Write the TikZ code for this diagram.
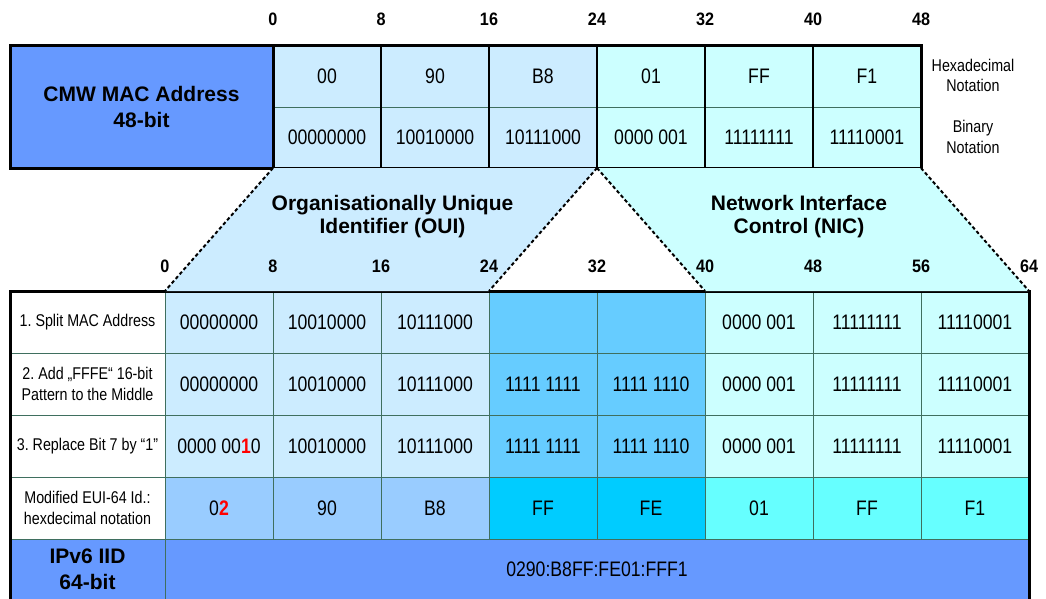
\documentclass[tikz,border=0pt]{standalone}
\usepackage{fontspec}
\setmainfont{Liberation Sans}
\newfontfamily\narrowfam{Liberation Sans}[FakeStretch=0.84]
\newfontfamily\numfam{Liberation Sans}[FakeStretch=0.9]
\frenchspacing

% fonts
\newcommand\cellfnt{\narrowfam\fontsize{21}{24}\selectfont}
\newcommand\labfnt{\narrowfam\fontsize{17}{20.5}\selectfont}
\newcommand\numfnt{\numfam\bfseries\fontsize{18}{20}\selectfont}
\newcommand\titlefnt{\bfseries\fontsize{21}{23}\selectfont}
\newcommand\boxfnt{\bfseries\fontsize{21}{26}\selectfont}
\newcommand\redbit[1]{\textcolor{red}{\bfseries #1}}

% palette
\definecolor{macblue}{HTML}{6699FF}
\definecolor{ouiblue}{HTML}{CCECFF}
\definecolor{niccyan}{HTML}{CCFFFF}
\definecolor{padblue}{HTML}{66CCFF}
\definecolor{euioui}{HTML}{99CCFF}
\definecolor{euipad}{HTML}{00CCFF}
\definecolor{euinic}{HTML}{66FFFF}
\definecolor{gridgreen}{HTML}{3F6F5F}

\tikzset{
  box/.style={rectangle, inner sep=0pt, outer sep=0pt, anchor=north west},
  topcell/.style={box, minimum width=108pt, font=\cellfnt},
  hexcell/.style={topcell, minimum height=62pt},
  bincell/.style={topcell, minimum height=61pt},
  cell/.style={box, minimum width=108pt, minimum height=62pt, font=\cellfnt,
    draw=gridgreen, line width=1pt},
  labcell/.style={box, minimum width=155pt, minimum height=62pt, font=\labfnt,
    align=center, fill=white, draw=gridgreen, line width=1pt},
  bitnum/.style={font=\numfnt, inner sep=0pt},
  title/.style={font=\titlefnt, align=center, inner sep=0pt},
  note/.style={font=\labfnt, align=center, inner sep=0pt},
  frame/.style={line width=3pt, black},
  divider/.style={line width=2pt, black},
  gridline/.style={line width=1pt, gridgreen},
  dashline/.style={line width=2pt, black, dash pattern=on 3.5pt off 2.5pt},
}

\begin{document}
\begin{tikzpicture}[x=1pt, y=-1pt]
\useasboundingbox (0,0) rectangle (1046,598);

% ---------- 48-bit MAC address ----------
\node[box, minimum width=263pt, minimum height=123pt, fill=macblue,
      font=\boxfnt, align=center] (mac) at (10,45) {CMW MAC Address\\48-bit};

\node[hexcell, fill=ouiblue] (h1) at (273,45) {00};
\node[hexcell, fill=ouiblue] (h2) at (381,45) {90};
\node[hexcell, fill=ouiblue] (h3) at (489,45) {B8};
\node[hexcell, fill=niccyan] (h4) at (597,45) {01};
\node[hexcell, fill=niccyan] (h5) at (705,45) {FF};
\node[hexcell, fill=niccyan] (h6) at (813,45) {F1};

\node[bincell, fill=ouiblue] (b1) at (273,107) {00000000};
\node[bincell, fill=ouiblue] (b2) at (381,107) {10010000};
\node[bincell, fill=ouiblue] (b3) at (489,107) {10111000};
\node[bincell, fill=niccyan] (b4) at (597,107) {0000 001};
\node[bincell, fill=niccyan] (b5) at (705,107) {11111111};
\node[bincell, fill=niccyan] (b6) at (813,107) {11110001};

\draw[gridline] (h1.south west) -- (h6.south east);
\foreach \i in {1,...,5} \draw[divider] (h\i.north east) -- (b\i.south east);
\draw[frame] (mac.north west) rectangle (b6.south east);
\draw[frame] (mac.north east) -- (mac.south east);

\node[note] (hexnote) at (973,75.5) {Hexadecimal\\Notation};
\node[note] (binnote) at (973,137) {Binary\\Notation};

% bit positions, 48-bit address
\node[bitnum] (t0)  at (273,19.5) {0};
\node[bitnum] (t8)  at (381,19.5) {8};
\node[bitnum] (t16) at (489,19.5) {16};
\node[bitnum] (t24) at (597,19.5) {24};
\node[bitnum] (t32) at (705,19.5) {32};
\node[bitnum] (t40) at (813,19.5) {40};
\node[bitnum] (t48) at (921,19.5) {48};

% ---------- 64-bit interface identifier ----------
\node[labcell] (l1) at (10,291) {1. Split MAC Address};
\node[labcell] (l2) at (10,353) {2. Add „FFFE“ 16-bit\\Pattern to the Middle};
\node[labcell] (l3) at (10,415) {3. Replace Bit 7 by “1”};
\node[labcell] (l4) at (10,477) {Modified EUI-64 Id.:\\hexdecimal notation};

% step 1
\node[cell, fill=ouiblue] (c11) at (165,291) {00000000};
\node[cell, fill=ouiblue] (c12) at (273,291) {10010000};
\node[cell, fill=ouiblue] (c13) at (381,291) {10111000};
\node[cell, fill=padblue] (c14) at (489,291) {};
\node[cell, fill=padblue] (c15) at (597,291) {};
\node[cell, fill=niccyan] (c16) at (705,291) {0000 001};
\node[cell, fill=niccyan] (c17) at (813,291) {11111111};
\node[cell, fill=niccyan] (c18) at (921,291) {11110001};
% step 2
\node[cell, fill=ouiblue] (c21) at (165,353) {00000000};
\node[cell, fill=ouiblue] (c22) at (273,353) {10010000};
\node[cell, fill=ouiblue] (c23) at (381,353) {10111000};
\node[cell, fill=padblue] (c24) at (489,353) {1111 1111};
\node[cell, fill=padblue] (c25) at (597,353) {1111 1110};
\node[cell, fill=niccyan] (c26) at (705,353) {0000 001};
\node[cell, fill=niccyan] (c27) at (813,353) {11111111};
\node[cell, fill=niccyan] (c28) at (921,353) {11110001};
% step 3
\node[cell, fill=ouiblue] (c31) at (165,415) {0000 00\redbit{1}0};
\node[cell, fill=ouiblue] (c32) at (273,415) {10010000};
\node[cell, fill=ouiblue] (c33) at (381,415) {10111000};
\node[cell, fill=padblue] (c34) at (489,415) {1111 1111};
\node[cell, fill=padblue] (c35) at (597,415) {1111 1110};
\node[cell, fill=niccyan] (c36) at (705,415) {0000 001};
\node[cell, fill=niccyan] (c37) at (813,415) {11111111};
\node[cell, fill=niccyan] (c38) at (921,415) {11110001};
% modified EUI-64
\node[cell, fill=euioui] (c41) at (165,477) {0\redbit{2}};
\node[cell, fill=euioui] (c42) at (273,477) {90};
\node[cell, fill=euioui] (c43) at (381,477) {B8};
\node[cell, fill=euipad] (c44) at (489,477) {FF};
\node[cell, fill=euipad] (c45) at (597,477) {FE};
\node[cell, fill=euinic] (c46) at (705,477) {01};
\node[cell, fill=euinic] (c47) at (813,477) {FF};
\node[cell, fill=euinic] (c48) at (921,477) {F1};

% IPv6 interface identifier
\node[labcell, minimum height=61pt, fill=macblue, font=\boxfnt] (lip) at (10,539) {IPv6 IID\\64-bit};
\node[cell, minimum width=864pt, minimum height=61pt, fill=macblue] (iid) at (165,539) {0290:B8FF:FE01:FFF1};

\draw[frame] (lip.south west) -- (l1.north west) -- (c18.north east) -- (iid.south east);

% ---------- OUI / NIC mapping ----------
\fill[ouiblue] (b1.south west) -- (b3.south east) -- (c13.north east) -- (c11.north west) -- cycle;
\fill[niccyan] (b3.south east) -- (b6.south east) -- (c18.north east) -- (c15.north east) -- cycle;
\draw[dashline] (b1.south west) -- (c11.north west);
\draw[dashline] (b3.south east) -- (c13.north east);
\draw[dashline] (b3.south east) -- (c15.north east);
\draw[dashline] (b6.south east) -- (c18.north east);

\node[title] (oui) at (392.5,217) {Organisationally Unique\\Identifier (OUI)};
\node[title] (nic) at (799,217) {Network Interface\\Control (NIC)};

% bit positions, 64-bit identifier
\node[bitnum] (n0)  at (165,266) {0};
\node[bitnum] (n8)  at (273,266) {8};
\node[bitnum] (n16) at (381,266) {16};
\node[bitnum] (n24) at (489,266) {24};
\node[bitnum] (n32) at (597,266) {32};
\node[bitnum] (n40) at (705,266) {40};
\node[bitnum] (n48) at (813,266) {48};
\node[bitnum] (n56) at (921,266) {56};
\node[bitnum] (n64) at (1029,266) {64};
\end{tikzpicture}
\end{document}
